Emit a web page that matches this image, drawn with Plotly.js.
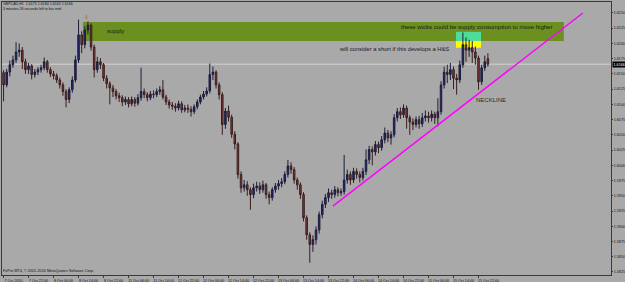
<!DOCTYPE html>
<html>
<head>
<meta charset="utf-8">
<script src="https://cdn.plot.ly/plotly-3.0.1.min.js"></script>
<style>html,body{margin:0;padding:0;background:#a9a9a9;}#chart{width:625px;height:282px;}</style>
</head>
<body>
<div id="chart"></div>
<script>
// GBPCAD H1 candles, bar index 0..155
const tickBars = [0,8,16,24,32,40,48,56,64,72,80,88,96,104,112,120,128,136,144,152];
const tickLabels = ["7 Oct 2010","7 Oct 22:00","8 Oct 06:00","8 Oct 14:00","8 Oct 22:00","11 Oct 06:00","11 Oct 14:00","11 Oct 22:00","12 Oct 06:00","12 Oct 14:00","12 Oct 22:00","13 Oct 06:00","13 Oct 14:00","13 Oct 22:00","14 Oct 06:00","14 Oct 14:00","14 Oct 22:00","15 Oct 06:00","15 Oct 14:00","15 Oct 22:00"];
const priceTicks = [1.5825,1.5850,1.5875,1.5900,1.5925,1.5950,1.5975,1.6000,1.6025,1.6050,1.6075,1.6100,1.6125,1.6150,1.6175,1.6200,1.6225,1.6250];

const openP = [1.6152,1.6132,1.6153,1.6165,1.6173,1.6186,1.6189,1.6170,1.6157,1.6163,
1.6149,1.6153,1.6157,1.6160,1.6170,1.6157,1.6150,1.6147,1.6140,1.6132,
1.6121,1.6108,1.6124,1.6140,1.6173,1.6214,1.6198,1.6222,1.6230,1.6194,
1.6157,1.6170,1.6165,1.6143,1.6134,1.6127,1.6121,1.6114,1.6111,1.6104,
1.6108,1.6101,1.6108,1.6102,1.6111,1.6121,1.6116,1.6111,1.6117,1.6116,
1.6121,1.6124,1.6112,1.6104,1.6099,1.6097,1.6094,1.6101,1.6091,1.6094,
1.6092,1.6088,1.6096,1.6104,1.6112,1.6117,1.6122,1.6149,1.6153,1.6132,
1.6116,1.6067,1.6089,1.6079,1.6051,1.6035,1.5985,1.5963,1.5968,1.5960,
1.5952,1.5963,1.5966,1.5960,1.5968,1.5952,1.5947,1.5960,1.5966,1.5970,
1.5973,1.5985,1.5999,1.5993,1.5976,1.5968,1.5952,1.5914,1.5886,1.5870,
1.5878,1.5894,1.5919,1.5936,1.5947,1.5955,1.5952,1.5960,1.5955,1.5957,
1.5976,1.5985,1.5976,1.5990,1.5985,1.5980,1.5990,1.6009,1.6026,1.6022,
1.6034,1.6029,1.6042,1.6053,1.6045,1.6050,1.6078,1.6088,1.6083,1.6094,
1.6078,1.6071,1.6067,1.6075,1.6068,1.6078,1.6081,1.6078,1.6084,1.6078,
1.6088,1.6132,1.6153,1.6149,1.6157,1.6143,1.6140,1.6165,1.6198,1.6189,
1.6193,1.6186,1.6176,1.6137,1.6160,1.6175];

const highP = [1.6156,1.6158,1.6172,1.6180,1.6202,1.6200,1.6194,1.6175,1.6168,1.6166,
1.6158,1.6161,1.6165,1.6177,1.6173,1.6161,1.6155,1.6151,1.6144,1.6136,
1.6125,1.6128,1.6146,1.6180,1.6239,1.6220,1.6228,1.6236,1.6233,1.6198,
1.6178,1.6176,1.6168,1.6148,1.6138,1.6132,1.6125,1.6119,1.6115,1.6113,
1.6112,1.6113,1.6112,1.6117,1.6160,1.6126,1.6120,1.6122,1.6123,1.6126,
1.6130,1.6140,1.6116,1.6108,1.6104,1.6102,1.6106,1.6105,1.6099,1.6100,
1.6097,1.6100,1.6108,1.6116,1.6122,1.6128,1.6167,1.6162,1.6156,1.6136,
1.6120,1.6094,1.6098,1.6083,1.6056,1.6038,1.5990,1.5976,1.5974,1.5964,
1.5970,1.5973,1.5972,1.5975,1.5971,1.5957,1.5964,1.5971,1.5976,1.5979,
1.5990,1.6009,1.6005,1.5997,1.5980,1.5972,1.5956,1.5918,1.5890,1.5885,
1.5900,1.5924,1.5942,1.5953,1.5962,1.5960,1.5966,1.5964,1.5962,1.6017,
1.5993,1.5990,1.5996,1.5995,1.5990,1.5996,1.6026,1.6032,1.6031,1.6040,
1.6039,1.6048,1.6062,1.6058,1.6056,1.6084,1.6094,1.6095,1.6100,1.6098,
1.6082,1.6077,1.6080,1.6081,1.6086,1.6090,1.6088,1.6090,1.6088,1.6110,
1.6138,1.6162,1.6165,1.6168,1.6162,1.6150,1.6172,1.6218,1.6210,1.6206,
1.6204,1.6195,1.6180,1.6165,1.6180,1.6184];

const lowP = [1.6105,1.6128,1.6146,1.6160,1.6168,1.6178,1.6158,1.6150,1.6150,1.6141,
1.6144,1.6148,1.6152,1.6156,1.6152,1.6145,1.6141,1.6135,1.6126,1.6114,
1.6095,1.6102,1.6119,1.6136,1.6168,1.6184,1.6192,1.6215,1.6188,1.6144,
1.6152,1.6158,1.6138,1.6126,1.6100,1.6112,1.6108,1.6104,1.6097,1.6099,
1.6095,1.6097,1.6096,1.6098,1.6106,1.6110,1.6105,1.6107,1.6110,1.6112,
1.6116,1.6108,1.6099,1.6093,1.6091,1.6088,1.6090,1.6086,1.6087,1.6086,
1.6080,1.6084,1.6092,1.6100,1.6108,1.6113,1.6118,1.6140,1.6126,1.6108,
1.6050,1.6060,1.6072,1.6045,1.6026,1.5978,1.5955,1.5957,1.5950,1.5927,
1.5946,1.5957,1.5953,1.5955,1.5945,1.5936,1.5942,1.5955,1.5960,1.5964,
1.5969,1.5980,1.5986,1.5970,1.5960,1.5945,1.5908,1.5878,1.5840,1.5858,
1.5870,1.5888,1.5913,1.5930,1.5940,1.5945,1.5947,1.5949,1.5950,1.5952,
1.5970,1.5968,1.5971,1.5978,1.5972,1.5975,1.5984,1.6002,1.6000,1.6016,
1.6020,1.6024,1.6036,1.6038,1.6034,1.6046,1.6072,1.6076,1.6078,1.6060,
1.6050,1.6058,1.6062,1.6060,1.6063,1.6072,1.6070,1.6072,1.6068,1.6064,
1.6083,1.6126,1.6135,1.6140,1.6125,1.6116,1.6135,1.6160,1.6170,1.6178,
1.6168,1.6165,1.6124,1.6132,1.6155,1.6162];

const closeP = [1.6132,1.6153,1.6165,1.6173,1.6186,1.6189,1.6170,1.6157,1.6163,1.6149,
1.6153,1.6157,1.6160,1.6170,1.6157,1.6150,1.6147,1.6140,1.6132,1.6121,
1.6108,1.6124,1.6140,1.6173,1.6214,1.6198,1.6222,1.6230,1.6194,1.6157,
1.6170,1.6165,1.6143,1.6134,1.6127,1.6121,1.6114,1.6111,1.6104,1.6108,
1.6101,1.6108,1.6102,1.6111,1.6121,1.6116,1.6111,1.6117,1.6116,1.6121,
1.6124,1.6112,1.6104,1.6099,1.6097,1.6094,1.6101,1.6091,1.6094,1.6092,
1.6088,1.6096,1.6104,1.6112,1.6117,1.6122,1.6149,1.6153,1.6132,1.6116,
1.6067,1.6089,1.6079,1.6051,1.6035,1.5985,1.5963,1.5968,1.5960,1.5952,
1.5963,1.5966,1.5960,1.5968,1.5952,1.5947,1.5960,1.5966,1.5970,1.5973,
1.5985,1.5999,1.5993,1.5976,1.5968,1.5952,1.5914,1.5886,1.5870,1.5878,
1.5894,1.5919,1.5936,1.5947,1.5955,1.5952,1.5960,1.5955,1.5957,1.5976,
1.5985,1.5976,1.5990,1.5985,1.5980,1.5990,1.6009,1.6026,1.6022,1.6034,
1.6029,1.6042,1.6053,1.6045,1.6050,1.6078,1.6088,1.6083,1.6094,1.6078,
1.6071,1.6067,1.6075,1.6068,1.6078,1.6081,1.6078,1.6084,1.6078,1.6088,
1.6132,1.6153,1.6149,1.6157,1.6143,1.6140,1.6165,1.6198,1.6189,1.6193,
1.6186,1.6176,1.6137,1.6160,1.6170,1.6166];

const bidPrice = 1.6166;
// drawn objects (bar index, price)
const supplyZone = {x0: 25.4, x1: 179.3, y0: 1.6204, y1: 1.6235};
const tealZone = {x0: 144.8, x1: 152.8, y0: 1.6204, y1: 1.6219};
const yellowZone = {x0: 144.8, x1: 152.8, y0: 1.6193, y1: 1.6204};
const neckline = {x0: 105.4, y0: 1.5933, x1: 185.4, y1: 1.6250};

const bars = openP.map((_, i) => i);

const BG = '#a9a9a9';
const FONT = 'Liberation Sans, Arial, sans-serif';

const trace = {
  type: 'candlestick',
  x: bars, open: openP, high: highP, low: lowP, close: closeP,
  increasing: {line: {color: '#1e1e3c', width: 1}, fillcolor: '#23237a'},
  decreasing: {line: {color: '#3a1e1e', width: 1}, fillcolor: '#8a3838'},
  whiskerwidth: 0,
  hoverinfo: 'skip',
  showlegend: false
};

const layout = {
  width: 625, height: 282,
  margin: {l: 2, r: 14, t: 2, b: 7},
  paper_bgcolor: BG, plot_bgcolor: BG,
  showlegend: false,
  font: {family: FONT, color: '#111', size: 4},
  xaxis: {
    type: 'linear', range: [-0.5, 194.4],
    tickvals: tickBars, ticktext: tickLabels,
    showgrid: false, zeroline: false,
    showline: true, mirror: true, linecolor: '#3a3a3a', linewidth: 1,
    ticks: 'outside', ticklen: 2, tickcolor: '#3a3a3a',
    tickfont: {family: FONT, size: 3.7, color: '#111'},
    ticklabelshift: 10, ticklabelstandoff: 0,
    rangeslider: {visible: false}, fixedrange: true
  },
  yaxis: {
    side: 'right', range: [1.5820, 1.6268],
    tickvals: priceTicks, tickformat: '.4f',
    showgrid: false, zeroline: false,
    showline: true, mirror: true, linecolor: '#3a3a3a', linewidth: 1,
    ticks: 'outside', ticklen: 1, tickcolor: '#3a3a3a',
    tickfont: {family: FONT, size: 3.7, color: '#111'},
    fixedrange: true
  },
  shapes: [
    {type: 'rect', xref: 'x', yref: 'y', layer: 'below', x0: supplyZone.x0, x1: supplyZone.x1, y0: supplyZone.y0, y1: supplyZone.y1, fillcolor: '#6b901f', line: {width: 0}},
    {type: 'rect', xref: 'x', yref: 'y', layer: 'below', x0: tealZone.x0, x1: tealZone.x1, y0: tealZone.y0, y1: tealZone.y1, fillcolor: '#4fdc9a', line: {width: 0}},
    {type: 'rect', xref: 'x', yref: 'y', layer: 'below', x0: yellowZone.x0, x1: yellowZone.x1, y0: yellowZone.y0, y1: yellowZone.y1, fillcolor: '#ffff00', line: {width: 0}},
    {type: 'line', xref: 'paper', yref: 'y', layer: 'below', x0: 0, x1: 1, y0: bidPrice, y1: bidPrice, line: {color: '#d4d4d4', width: 1}},
    {type: 'line', xref: 'x', yref: 'y', layer: 'above', x0: neckline.x0, y0: neckline.y0, x1: neckline.x1, y1: neckline.y1, line: {color: '#ff00ff', width: 1.5}}
  ],
  annotations: [
    {xref: 'paper', yref: 'paper', x: 0, y: 0.9916, xanchor: 'left', yanchor: 'middle', showarrow: false, borderpad: 0, text: 'GBPCAD,H1  1.6175 1.6184 1.6162 1.6166', font: {size: 3.6, color: '#111'}},
    {xref: 'paper', yref: 'paper', x: 0, y: 0.9755, xanchor: 'left', yanchor: 'middle', showarrow: false, borderpad: 0, text: '3 minutes 26 seconds left to bar end', font: {size: 3.6, color: '#111'}},
    {xref: 'paper', yref: 'paper', x: 0, y: 0.0147, xanchor: 'left', yanchor: 'middle', showarrow: false, borderpad: 0, text: 'FxPro MT4, © 2001-2010 MetaQuotes Software Corp.', font: {size: 3.8, color: '#111'}},
    {xref: 'x', yref: 'y', x: 32.7, y: 1.6221, xanchor: 'left', yanchor: 'middle', showarrow: false, borderpad: 0, text: 'supply', font: {size: 6, color: '#1a1a1a'}},
    {xref: 'x', yref: 'y', x: 126.9, y: 1.6227, xanchor: 'left', yanchor: 'middle', showarrow: false, borderpad: 0, text: 'these wicks could be supply consumption to move higher', font: {size: 6, color: '#1a1a1a'}},
    {xref: 'x', yref: 'y', x: 107.0, y: 1.6191, xanchor: 'left', yanchor: 'middle', showarrow: false, borderpad: 0, text: 'will consider a short if this develops a H&amp;S', font: {size: 5.8, color: '#1a1a1a'}},
    {xref: 'x', yref: 'y', x: 150.9, y: 1.6107, xanchor: 'left', yanchor: 'middle', showarrow: false, borderpad: 0, text: 'NECKLINE', font: {size: 6, color: '#2a2a2a'}},
    {xref: 'x', yref: 'y', x: 26.7, y: 1.6245, xanchor: 'center', yanchor: 'middle', showarrow: false, borderpad: 0, text: '⇩', font: {family: 'DejaVu Sans', size: 6, color: '#e03030'}},
    {xref: 'paper', yref: 'y', x: 1, y: bidPrice, xanchor: 'left', yanchor: 'middle', showarrow: false, borderpad: 0.5, xshift: 0.5, bgcolor: '#000000', text: bidPrice.toFixed(4), font: {size: 3.7, color: '#ffffff'}}
  ]
};

Plotly.newPlot('chart', [trace], layout, {staticPlot: true, displayModeBar: false});
</script>
</body>
</html>
